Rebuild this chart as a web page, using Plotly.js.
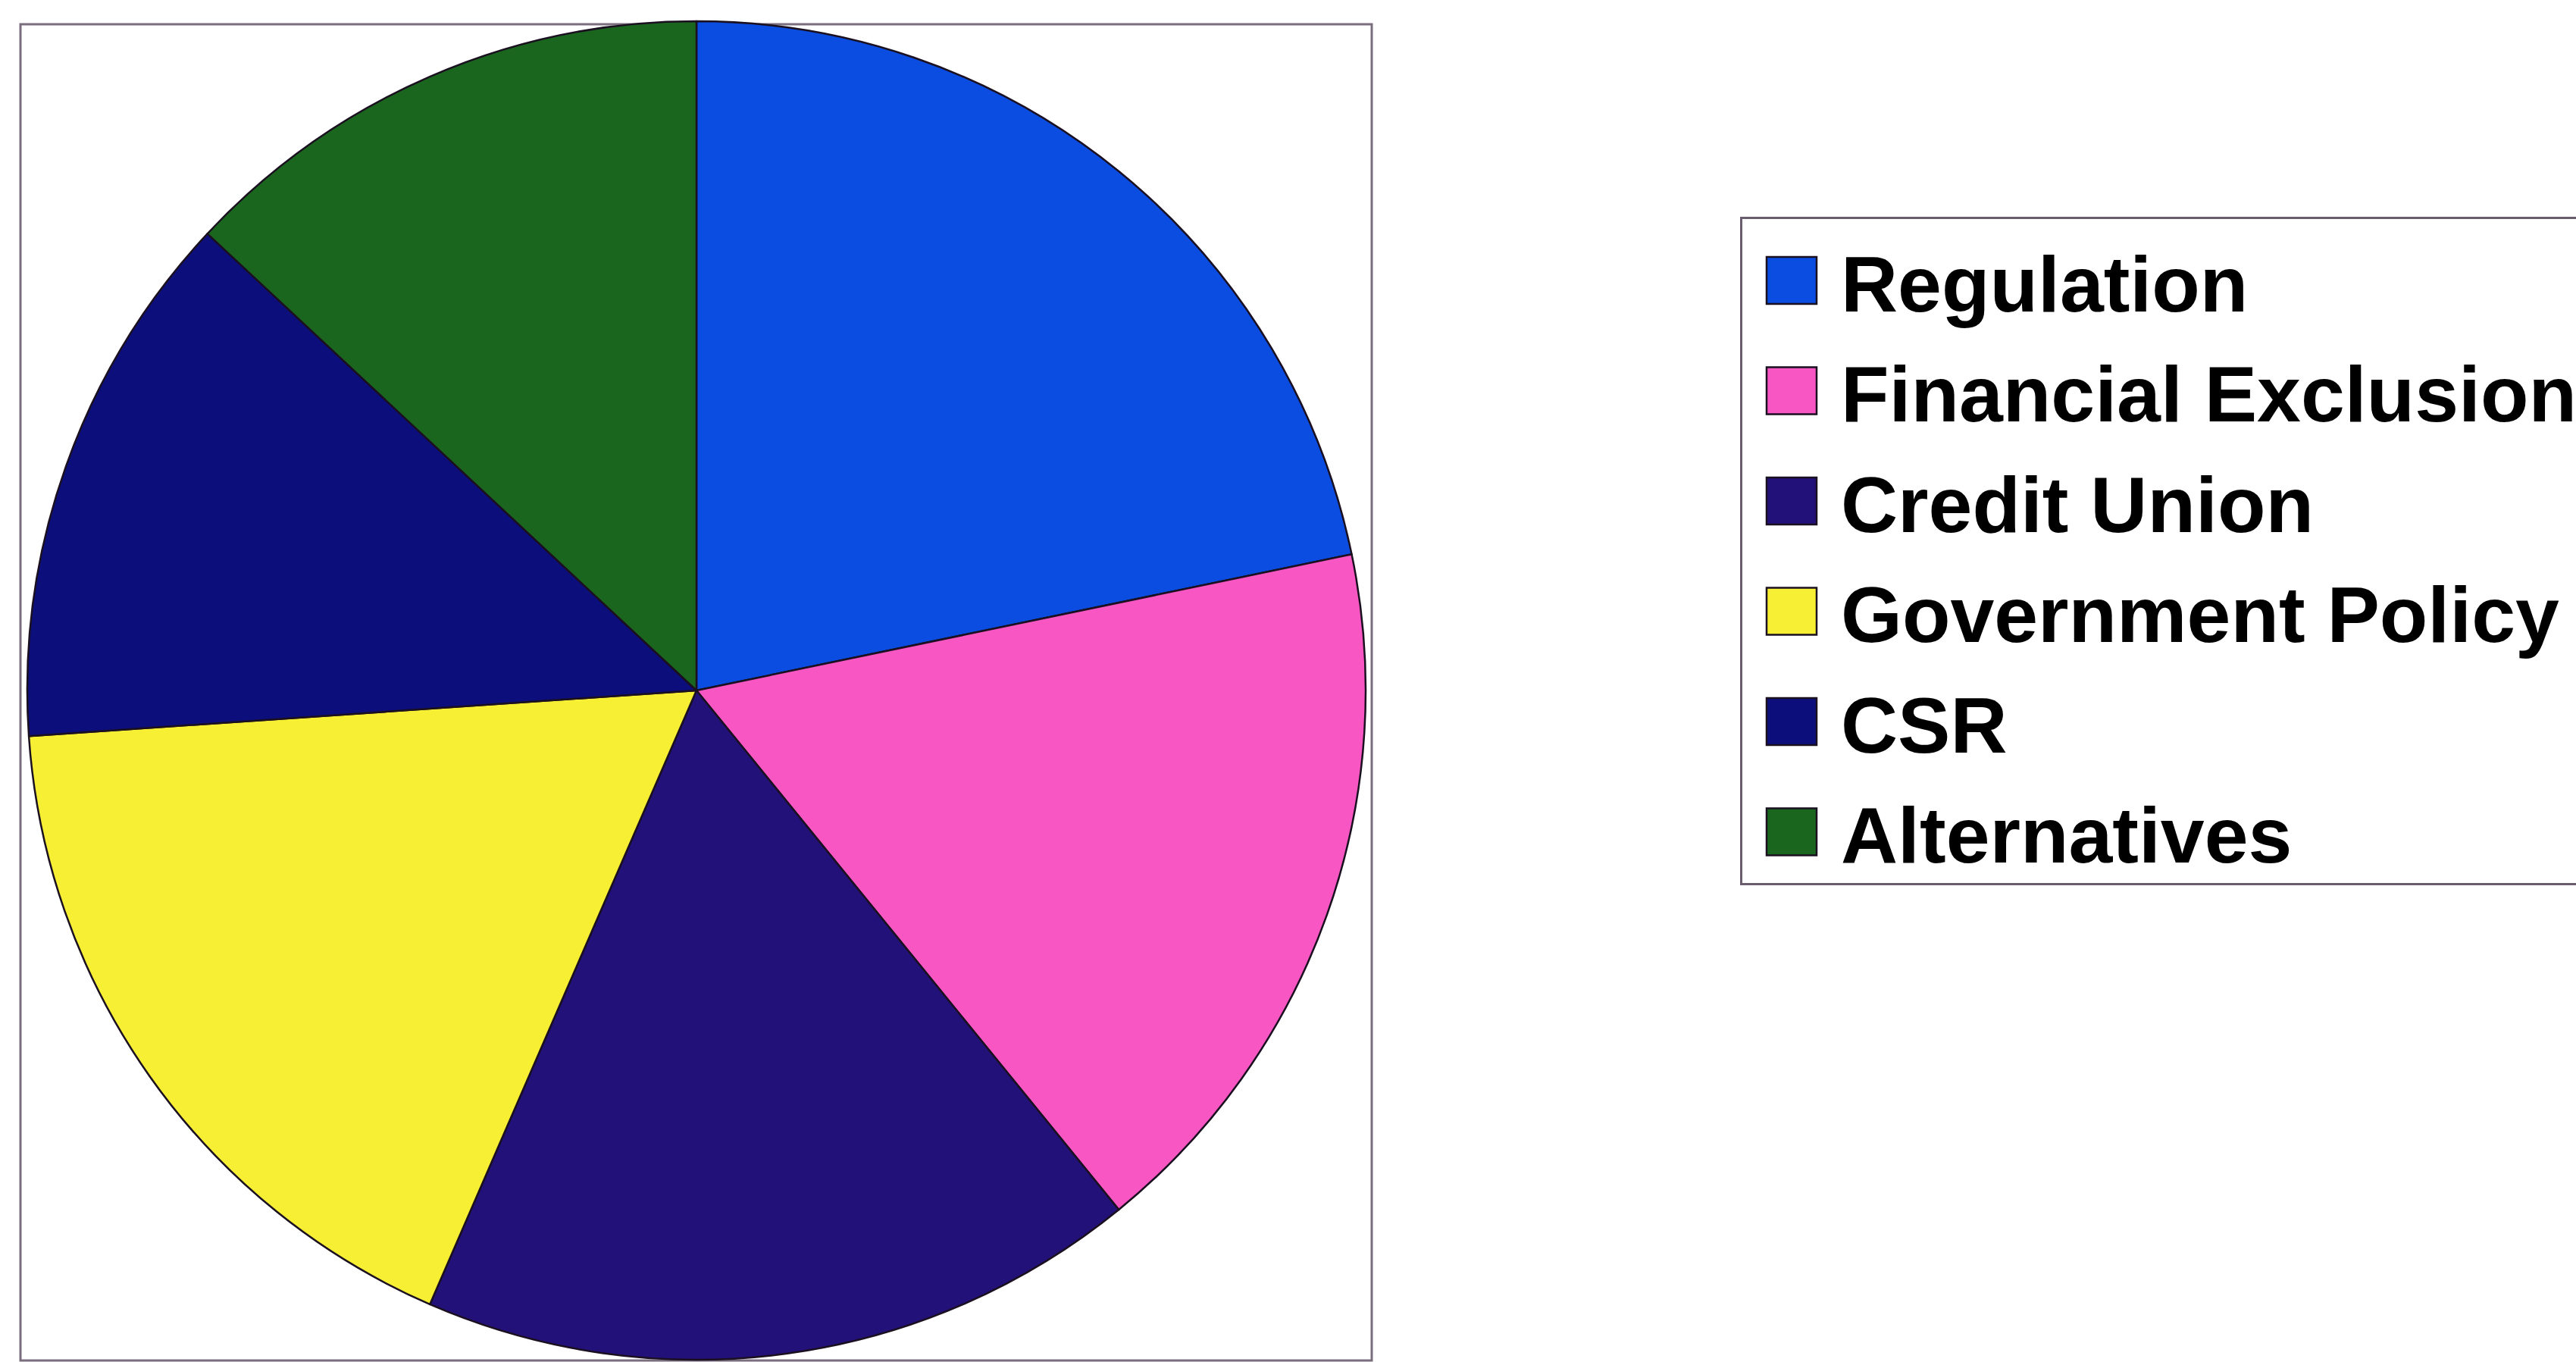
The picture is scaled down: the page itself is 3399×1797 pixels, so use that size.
<!DOCTYPE html>
<html>
<head>
<meta charset="utf-8">
<script src="https://cdn.plot.ly/plotly-3.0.1.min.js"></script>
<style>
  html, body { margin: 0; padding: 0; background: #ffffff; }
  #chart { width: 3399px; height: 1797px; }
</style>
</head>
<body>
<div id="chart"></div>
<script>
// ---- data ----
const categories = ["Regulation", "Financial Exclusion", "Credit Union", "Government Policy", "CSR", "Alternatives"];
const values = [5, 4, 4, 4, 3, 3];
const sliceColors = ["#0b4de0", "#f756c3", "#23117a", "#f6ef33", "#0c0f7b", "#1b661e"];

const W = 3399, H = 1797;

const trace = {
  type: "pie",
  labels: categories,
  values: values,
  sort: false,
  direction: "clockwise",
  rotation: 0,
  textinfo: "none",
  hoverinfo: "label+value",
  marker: { colors: sliceColors, line: { color: "#1a1020", width: 2.5 } },
  domain: { x: [33 / W, 1805 / W], y: [3 / H, 1769 / H] },
  showlegend: true
};

const layout = {
  width: W,
  height: H,
  paper_bgcolor: "#ffffff",
  plot_bgcolor: "#ffffff",
  margin: { l: 0, r: 0, t: 0, b: 0, pad: 0, autoexpand: false },
  showlegend: true,
  legend: {
    x: 2296 / W,
    y: 1 - 286 / H,
    xanchor: "left",
    yanchor: "top",
    bgcolor: "#ffffff",
    bordercolor: "#6a5e6e",
    borderwidth: 3,
    itemwidth: 120,
    font: { family: "Liberation Sans, Arial, Helvetica, sans-serif", size: 104, color: "#000000", weight: "bold" },
    traceorder: "normal"
  },
  shapes: [
    {
      type: "rect", xref: "paper", yref: "paper",
      x0: 27 / W, x1: 1810 / W, y0: 2 / H, y1: 1 - 32 / H,
      line: { color: "#7a6e7e", width: 3 },
      fillcolor: "rgba(0,0,0,0)",
      layer: "below"
    }
  ]
};

Plotly.newPlot("chart", [trace], layout, { displayModeBar: false, staticPlot: true }).then(function () {
  const root = document.getElementById("chart");
  // enlarge the legend swatches to match the reference
  root.querySelectorAll(".legend .legendpoints path").forEach(function (p) {
    p.setAttribute("d", "M33,31H-33V-31H33Z");
    p.style.strokeWidth = "2.5px";
  });
  // widen the vertical spacing of legend entries
  const items = Array.from(root.querySelectorAll(".legend .traces"));
  const pos = items.map(function (t) {
    const m = /translate\(\s*([-\d.eE]+)[\s,]+([-\d.eE]+)\s*\)/.exec(t.getAttribute("transform") || "");
    return m ? [parseFloat(m[1]), parseFloat(m[2])] : [0, 0];
  });
  if (items.length > 1) {
    const step = pos[1][1] - pos[0][1];
    const target = 145.5, shift = 7;
    items.forEach(function (t, i) {
      t.setAttribute("transform", "translate(" + pos[i][0] + "," + (pos[0][1] + shift + i * target) + ")");
    });
    const extra = shift + (items.length - 1) * (target - step) - 8;
    const bg = root.querySelector(".legend rect.bg");
    if (bg) bg.setAttribute("height", parseFloat(bg.getAttribute("height")) + extra);
    root.querySelectorAll(".legend .scrollbox").forEach(function (s) { s.removeAttribute("clip-path"); });
  }
});
</script>
</body>
</html>
